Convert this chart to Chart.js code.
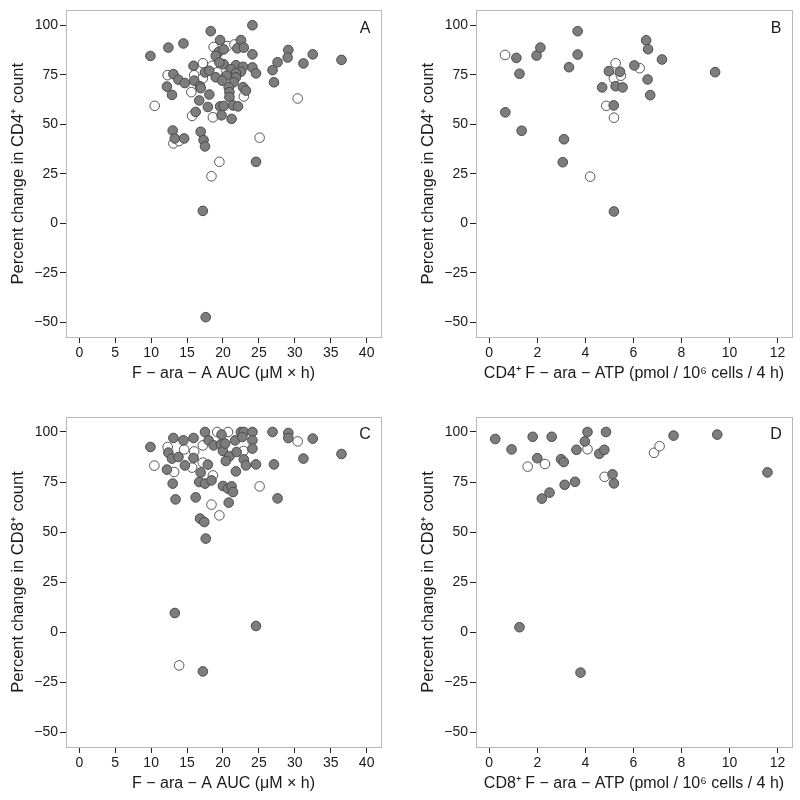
<!DOCTYPE html>
<html>
<head>
<meta charset="utf-8">
<script src="https://cdn.jsdelivr.net/npm/chart.js@4/dist/chart.umd.min.js"></script>
<style>
  html, body { margin: 0; padding: 0; background: #fff; }
  #wrap { position: relative; width: 800px; height: 800px; }
  canvas { position: absolute; }
</style>
</head>
<body>
<div id="wrap">
  <canvas id="cA" width="400" height="400" style="left:0;top:0"></canvas>
  <canvas id="cB" width="400" height="400" style="left:400px;top:0"></canvas>
  <canvas id="cC" width="400" height="400" style="left:0;top:400px"></canvas>
  <canvas id="cD" width="400" height="400" style="left:400px;top:400px"></canvas>
</div>
<script>
// ---------- tick labels ----------
const yTicks = [-50, -25, 0, 25, 50, 75, 100];
const aucTicks = [0, 5, 10, 15, 20, 25, 30, 35, 40];
const atpTicks = [0, 2, 4, 6, 8, 10, 12];

// ---------- Panel A: F-ara-A AUC vs % change CD4 ----------
const aFilledX = [18.3,24.1,19.6,22.5,12.4,14.5,9.9,22.0,22.9,19.4,19.0,20.1,24.1,29.1,29.0,32.5,36.5,31.2,27.6,26.9,27.1,15.9,20.1,19.5,21.8,22.8,24.1,24.6,17.5,18.1,21.1,22.5,21.8,21.8,20.5,19.0,19.9,21.5,13.1,13.8,14.7,16.0,16.8,16.9,12.2,12.9,18.1,20.8,20.9,20.9,22.8,23.2,16.7,17.9,19.6,20.1,21.4,22.1,16.2,19.8,21.2,13.0,13.3,14.6,16.9,17.3,17.5,24.6,17.2,17.6];
const aFilledY = [97.0,100,92.5,92.5,88.7,90.8,84.5,88.3,88.7,86.5,84.5,87.8,85.3,87.5,83.7,85.3,82.5,80.7,81.3,77.3,71.2,79.5,80.3,81.2,79.8,79.0,78.7,75.7,76.2,77.0,77.8,76.5,75.8,73.7,74.5,73.7,72.0,71.2,75.3,72.5,70.8,72.0,69.2,68.2,69.0,64.8,65.0,68.7,66.2,63.7,68.7,67.0,62.0,58.7,59.0,59.2,59.5,59.0,56.2,54.5,52.7,46.8,42.8,42.8,46.2,42.0,38.8,31.0,6.2,-47.5];
const aOpenX = [18.7,20.6,21.6,17.2,18.5,19.2,12.3,16.0,17.2,15.6,22.9,30.4,10.5,15.7,18.6,13.1,13.9,25.1,19.5,18.4];
const aOpenY = [89.0,89.5,90.3,80.8,79.5,76.2,74.8,74.8,73.2,66.2,64.0,63.0,59.3,54.2,53.5,40.3,41.5,43.2,31.0,23.7];

// ---------- Panel B: CD4+ F-ara-ATP vs % change CD4 ----------
const bFilledX = [1.13,1.26,1.97,2.13,0.67,1.35,3.68,3.68,3.32,3.11,3.06,5.19,4.70,4.98,5.44,5.26,5.55,5.18,6.04,6.53,6.61,7.19,6.59,6.70,9.40];
const bFilledY = [83.5,75.5,84.7,88.7,56.0,46.7,97.0,85.2,78.8,42.4,30.8,5.9,68.6,76.8,76.5,69.2,68.6,59.5,79.7,92.4,87.9,82.7,72.6,64.7,76.3];
const bOpenX = [0.66,4.20,5.26,5.19,5.48,4.87,5.19,6.26];
const bOpenY = [85.0,23.5,80.8,73.1,74.5,59.3,53.3,78.3];

// ---------- Panel C: F-ara-A AUC vs % change CD8 ----------
const cFilledX = [9.9,13.1,12.4,12.9,13.8,12.2,13.0,13.4,14.5,14.7,15.9,15.9,16.9,16.7,17.5,16.2,16.8,17.4,17.6,17.5,17.9,18.0,18.4,18.7,19.7,20.0,19.8,20.3,20.9,20.4,21.8,21.7,21.9,22.5,22.9,22.7,24.1,24.1,24.1,22.9,23.2,24.6,20.0,20.7,21.2,21.4,20.8,26.9,27.1,27.6,29.1,29.1,32.5,31.2,36.5,13.3,17.2,24.6];
const cFilledY = [92.5,97.0,89.7,86.7,87.5,81.2,74.2,66.3,95.8,83.3,97.0,87.0,79.7,75.0,74.2,67.3,56.7,55.0,46.7,100,83.7,95.8,75.8,93.3,93.8,90.5,98.7,94.2,87.8,85.5,80.3,95.8,90.0,100,100,97.5,100,95.8,91.7,86.3,83.3,83.8,73.0,71.7,72.8,70.0,64.7,100,83.8,66.8,99.5,97.0,96.7,86.7,89.0,9.5,-19.7,3.0];
const cOpenX = [10.45,12.3,13.2,14.6,16.0,15.7,17.2,17.2,18.6,18.4,19.5,19.2,20.7,22.85,25.1,30.4,13.9];
const cOpenY = [83.2,92.5,80.0,91.3,90.3,82.2,93.3,84.7,78.3,63.7,58.3,100,100,90.5,72.8,95.3,-16.7];

// ---------- Panel D: CD8+ F-ara-ATP vs % change CD8 ----------
const dFilledX = [0.25,0.93,1.81,2.00,2.60,2.19,2.51,1.26,2.99,3.10,3.14,3.57,3.63,3.98,4.09,4.58,4.79,4.86,5.13,5.19,3.80,7.67,9.49,11.58];
const dFilledY = [96.5,91.3,97.6,86.9,97.6,66.7,69.7,2.4,86.4,85.0,73.6,75.1,91.1,95.3,100,89.1,91.1,100,78.8,74.3,-20.3,98.2,98.7,79.8];
const dOpenX = [1.60,2.32,4.09,4.80,6.86,7.09];
const dOpenY = [82.7,84.0,91.4,77.6,89.6,92.9];

// ---------- helpers ----------
const FONT = "'Liberation Sans', Arial, Helvetica, sans-serif";
const pairs = (xs, ys) => xs.map((x, i) => ({ x: x, y: ys[i] }));
const fmt = v => (v < 0 ? '\u2212' + Math.abs(v) : String(v));

const boxPlugin = {
  id: 'boxAndLabel',
  afterDraw(chart, args, opts) {
    const { ctx, chartArea: a } = chart;
    ctx.save();
    ctx.strokeStyle = '#b8b8b8';
    ctx.lineWidth = 1;
    ctx.strokeRect(Math.round(a.left) + 0.5, Math.round(a.top) + 0.5,
                   Math.round(a.right - a.left), Math.round(a.bottom - a.top));
    ctx.fillStyle = '#1a1a1a';
    ctx.font = '16px ' + FONT;
    ctx.textAlign = 'center';
    ctx.textBaseline = 'middle';
    ctx.fillText(opts.text, a.right - 16, a.top + 18);
    ctx.restore();
  }
};

function makeChart(id, cfg) {
  const ctx = document.getElementById(id);
  return new Chart(ctx, {
    type: 'scatter',
    data: {
      datasets: [
        { data: pairs(cfg.fx, cfg.fy), backgroundColor: '#7d7d7d', borderColor: '#4a4a4a',
          borderWidth: 1, pointRadius: 4.8, pointHoverRadius: 4.8 },
        { data: pairs(cfg.ox, cfg.oy), backgroundColor: '#ffffff', borderColor: '#555555',
          borderWidth: 1, pointRadius: 4.8, pointHoverRadius: 4.8 }
      ]
    },
    options: {
      responsive: false,
      animation: false,
      layout: { padding: { left: 0, top: cfg.top, right: cfg.right, bottom: 0 } },
      plugins: {
        legend: { display: false },
        tooltip: { enabled: false },
        boxAndLabel: { text: cfg.label }
      },
      scales: {
        x: {
          type: 'linear',
          min: cfg.xmin, max: cfg.xmax,
          afterBuildTicks: s => { s.ticks = cfg.xticks.map(v => ({ value: v })); },
          afterFit: s => { s.height = cfg.xh; },
          grid: { display: true, drawOnChartArea: false, drawTicks: true, tickLength: 6,
                  tickColor: '#222', tickWidth: 1 },
          border: { display: false },
          ticks: { color: '#1a1a1a', font: { family: FONT, size: 14 }, padding: 2,
                   maxRotation: 0, autoSkip: false, callback: v => fmt(v) },
          title: { display: true, text: cfg.xtitle, color: '#1a1a1a',
                   font: { family: FONT, size: 16 }, padding: { top: 0, bottom: cfg.xtp } }
        },
        y: {
          type: 'linear',
          min: -57.5, max: 107.5,
          afterBuildTicks: s => { s.ticks = yTicks.map(v => ({ value: v })); },
          afterFit: s => { s.width = cfg.yw; },
          grid: { display: true, drawOnChartArea: false, drawTicks: true, tickLength: 6,
                  tickColor: '#222', tickWidth: 1 },
          border: { display: false },
          ticks: { color: '#1a1a1a', font: { family: FONT, size: 14 }, padding: 2,
                   autoSkip: false, callback: v => fmt(v) },
          title: { display: true, text: cfg.ytitle, color: '#1a1a1a',
                   font: { family: FONT, size: 16.5 }, padding: { top: cfg.ytp, bottom: 0 } }
        }
      }
    },
    plugins: [boxPlugin]
  });
}

const aucTitle = 'F \u2212 ara \u2212 A AUC (\u03bcM \u00d7 h)';

makeChart('cA', { fx: aFilledX, fy: aFilledY, ox: aOpenX, oy: aOpenY, label: 'A',
  xmin: -1.85, xmax: 42.0, xticks: aucTicks, top: 7, right: 19, xh: 63, yw: 66, xtp: 17, ytp: 9,
  xtitle: aucTitle, ytitle: 'Percent change in CD4\u207a count' });

makeChart('cB', { fx: bFilledX, fy: bFilledY, ox: bOpenX, oy: bOpenY, label: 'B',
  xmin: -0.55, xmax: 12.6, xticks: atpTicks, top: 7, right: 8, xh: 63, yw: 76, xtp: 17, ytp: 19,
  xtitle: 'CD4\u207a F \u2212 ara \u2212 ATP (pmol / 10\u2076 cells / 4 h)',
  ytitle: 'Percent change in CD4\u207a count' });

makeChart('cC', { fx: cFilledX, fy: cFilledY, ox: cOpenX, oy: cOpenY, label: 'C',
  xmin: -1.85, xmax: 42.0, xticks: aucTicks, top: 17, right: 19, xh: 53, yw: 66, xtp: 7, ytp: 9,
  xtitle: aucTitle, ytitle: 'Percent change in CD8\u207a count' });

makeChart('cD', { fx: dFilledX, fy: dFilledY, ox: dOpenX, oy: dOpenY, label: 'D',
  xmin: -0.55, xmax: 12.6, xticks: atpTicks, top: 17, right: 8, xh: 53, yw: 76, xtp: 7, ytp: 19,
  xtitle: 'CD8\u207a F \u2212 ara \u2212 ATP (pmol / 10\u2076 cells / 4 h)',
  ytitle: 'Percent change in CD8\u207a count' });
</script>
</body>
</html>
